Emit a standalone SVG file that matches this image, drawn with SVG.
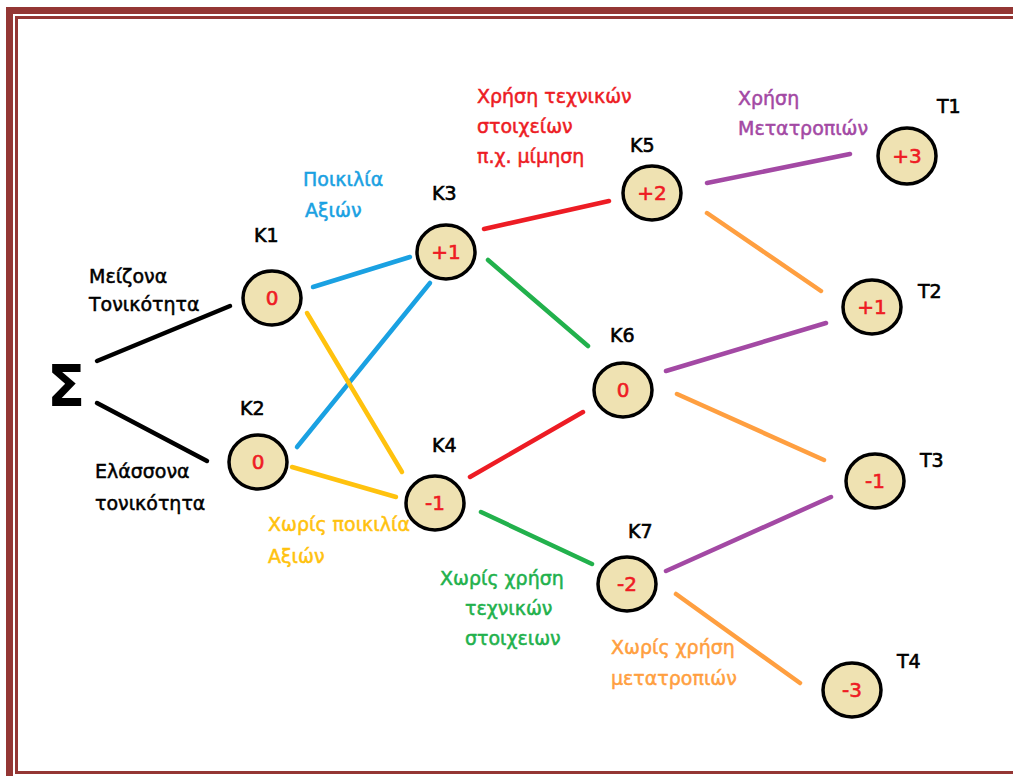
<svg xmlns="http://www.w3.org/2000/svg" width="1013" height="776" viewBox="0 0 1013 776">
<style>
.n{fill:#EFE2B2;stroke:#000;stroke-width:3.5}
.v{font-family:"DejaVu Sans","Liberation Sans",sans-serif;font-size:20px;fill:#EE1C24;stroke:#EE1C24;stroke-width:0.6;text-anchor:middle}
.k{font-family:"DejaVu Sans","Liberation Sans",sans-serif;font-size:19px;fill:#000;stroke:#000;stroke-width:0.6}
.t{font-family:"DejaVu Sans","Liberation Sans",sans-serif;font-size:19px;stroke-width:0.5}
.c line{stroke-width:4.5;stroke-linecap:round}
</style>
<rect width="1013" height="776" fill="#fff"/>
<g id="border" fill="#943634">
<rect x="6" y="7" width="1007" height="7"/>
<rect x="6" y="7" width="7" height="769"/>
<rect x="15" y="16" width="998" height="3"/>
<rect x="15" y="16" width="3" height="758"/>
<rect x="15" y="771" width="998" height="3"/>
</g>
<g id="connectors" class="c">
<line x1="97" y1="361" x2="230" y2="306" stroke="#000"/>
<line x1="97" y1="403" x2="207" y2="461" stroke="#000"/>
<line x1="313" y1="287" x2="410" y2="257" stroke="#1AA1E2"/>
<line x1="297" y1="447" x2="430" y2="283" stroke="#1AA1E2"/>
<line x1="307" y1="313" x2="402" y2="472" stroke="#FFC20E"/>
<line x1="292" y1="467" x2="396" y2="497" stroke="#FFC20E"/>
<line x1="484" y1="229" x2="609" y2="201" stroke="#ED1C24"/>
<line x1="470" y1="477" x2="583" y2="412" stroke="#ED1C24"/>
<line x1="488" y1="260" x2="588" y2="346" stroke="#22B14C"/>
<line x1="481" y1="512" x2="592" y2="564" stroke="#22B14C"/>
<line x1="707" y1="183" x2="850" y2="154" stroke="#A349A4"/>
<line x1="666" y1="371" x2="826" y2="323" stroke="#A349A4"/>
<line x1="666" y1="571" x2="831" y2="497" stroke="#A349A4"/>
<line x1="707" y1="213" x2="821" y2="291" stroke="#FF9F40"/>
<line x1="677" y1="394" x2="824" y2="460" stroke="#FF9F40"/>
<line x1="676" y1="594" x2="800" y2="683" stroke="#FF9F40"/>
</g>
<g id="S"><text x="47" y="406" font-family="DejaVu Sans, sans-serif" font-size="56" font-weight="bold">Σ</text></g>
<g id="K1"><ellipse class="n" cx="272" cy="298" rx="29" ry="27"/><text class="v" x="272" y="305">0</text><text class="k" x="254" y="242">K1</text></g>
<g id="K2"><ellipse class="n" cx="258" cy="462" rx="29" ry="27"/><text class="v" x="258" y="469">0</text><text class="k" x="240" y="415">K2</text></g>
<g id="K3"><ellipse class="n" cx="446" cy="252" rx="29" ry="27"/><text class="v" x="446" y="259">+1</text><text class="k" x="432" y="200">K3</text></g>
<g id="K4"><ellipse class="n" cx="435" cy="503" rx="29" ry="27"/><text class="v" x="435" y="510">-1</text><text class="k" x="432" y="452">K4</text></g>
<g id="K5"><ellipse class="n" cx="652" cy="193" rx="29" ry="27"/><text class="v" x="652" y="200">+2</text><text class="k" x="630" y="152">K5</text></g>
<g id="K6"><ellipse class="n" cx="623" cy="390" rx="29" ry="27"/><text class="v" x="623" y="397">0</text><text class="k" x="610" y="342">K6</text></g>
<g id="K7"><ellipse class="n" cx="627" cy="584" rx="29" ry="27"/><text class="v" x="627" y="591">-2</text><text class="k" x="628" y="538">K7</text></g>
<g id="T1"><ellipse class="n" cx="907" cy="156" rx="29" ry="28"/><text class="v" x="907" y="163">+3</text><text class="k" x="937" y="113">T1</text></g>
<g id="T2"><ellipse class="n" cx="872" cy="307" rx="29" ry="27"/><text class="v" x="872" y="314">+1</text><text class="k" x="918" y="298">T2</text></g>
<g id="T3"><ellipse class="n" cx="875" cy="481" rx="29" ry="27"/><text class="v" x="875" y="488">-1</text><text class="k" x="920" y="467">T3</text></g>
<g id="T4"><ellipse class="n" cx="852" cy="690" rx="29" ry="27"/><text class="v" x="852" y="697">-3</text><text class="k" x="897" y="668">T4</text></g>
<g id="labels" class="t">
<text x="89" y="283" fill="#000" stroke="#000">Μείζονα</text>
<text x="89" y="311" fill="#000" stroke="#000">Τονικότητα</text>
<text x="95" y="478" fill="#000" stroke="#000">Ελάσσονα</text>
<text x="95" y="510" fill="#000" stroke="#000">τονικότητα</text>
<text x="303" y="186" fill="#1AA1E2" stroke="#1AA1E2">Ποικιλία</text>
<text x="305" y="217" fill="#1AA1E2" stroke="#1AA1E2">Αξιών</text>
<text x="477" y="103" fill="#ED1C24" stroke="#ED1C24">Χρήση τεχνικών</text>
<text x="477" y="133" fill="#ED1C24" stroke="#ED1C24">στοιχείων</text>
<text x="477" y="163" fill="#ED1C24" stroke="#ED1C24">π.χ. μίμηση</text>
<text x="738" y="105" fill="#A349A4" stroke="#A349A4">Χρήση</text>
<text x="738" y="135" fill="#A349A4" stroke="#A349A4">Μετατροπιών</text>
<text x="268" y="531" fill="#FFC20E" stroke="#FFC20E">Χωρίς ποικιλία</text>
<text x="268" y="563" fill="#FFC20E" stroke="#FFC20E">Αξιών</text>
<text x="440" y="585" fill="#22B14C" stroke="#22B14C">Χωρίς χρήση</text>
<text x="465" y="615" fill="#22B14C" stroke="#22B14C">τεχνικών</text>
<text x="465" y="645" fill="#22B14C" stroke="#22B14C">στοιχειων</text>
<text x="611" y="654" fill="#FF9F40" stroke="#FF9F40">Χωρίς χρήση</text>
<text x="611" y="685" fill="#FF9F40" stroke="#FF9F40">μετατροπιών</text>
</g>
</svg>
